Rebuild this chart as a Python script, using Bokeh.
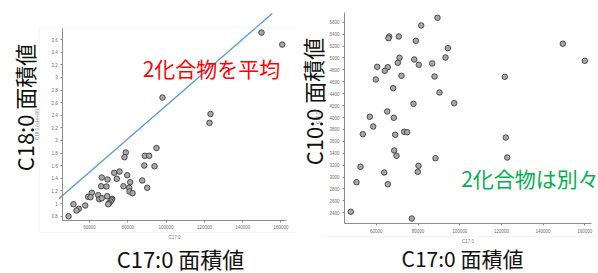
from bokeh.plotting import figure
from bokeh.models import (LinearAxis, SingleIntervalTicker, CustomJSTickFormatter,
                          BasicTickFormatter, Label, BoxAnnotation, Node, Range1d)
from bokeh.layouts import row
from bokeh.embed import file_html
from bokeh.resources import INLINE

# ---- data: left panel (C17:0 vs C18:0) ----
c17_a = [149818, 160628, 98121, 123186, 122664, 94987, 78956, 78277, 88878, 91175,
         88564, 93943, 75666, 72898, 79687, 66423, 69400, 74256, 87520, 66110,
         68877, 77755, 81254, 80731, 90131, 80888, 82455, 61201, 59321, 60522,
         64543, 65065, 66423, 69243, 71854, 71488, 70966, 70287, 69765, 57755,
         51645, 54412, 53211, 49034]
c18 = [3.71, 3.52, 2.68, 2.42, 2.28, 1.88, 1.81, 1.735, 1.757, 1.757,
       1.603, 1.592, 1.508, 1.488, 1.45, 1.413, 1.382, 1.393, 1.366, 1.275,
       1.271, 1.275, 1.339, 1.25, 1.25, 1.191, 1.165, 1.171, 1.107, 1.101,
       1.133, 1.069, 1.085, 1.117, 1.076, 1.06, 1.033, 1.006, 0.99, 0.97,
       0.99, 0.917, 0.89, 0.80]
trend_x = [43969, 155406]
trend_y = [1.076, 4.012]

# ---- data: right panel (C17:0 vs C10:0) ----
c17_b = [89352, 81534, 66187, 70791, 65851, 78944, 149445, 94291, 71127, 93188,
         78177, 159997, 70311, 86810, 80383, 60432, 65515, 64077, 72086, 87913,
         121629, 59760, 68105, 90311, 97361, 77841, 65228, 56883, 68393, 58513,
         73381, 74820, 53525, 69064, 122108, 68585, 69688, 88392, 122780, 52422,
         80239, 63789, 79903, 50504, 65515, 47770, 77026]
c10 = [5674, 5545, 5360, 5360, 5332, 5288, 5238, 5164, 5002, 5007,
       4974, 4952, 4919, 4907, 4885, 4851, 4845, 4784, 4700, 4688,
       4683, 4638, 4492, 4420, 4240, 4230, 4101, 4012, 3995, 3849,
       3760, 3753, 3720, 3710, 3664, 3446, 3357, 3317, 3328, 3172,
       3189, 3077, 3088, 2914, 2880, 2417, 2304]

title_left_y = "C18:0 面積値"
title_right_y = "C10:0 面積値"
title_x = "C17:0 面積値"
note_left = "2化合物を平均"
note_right = "2化合物は別々"

FONT = "Noto Sans CJK JP"
TICKFONT = "Liberation Sans"
H = 273


def base(width, xr, yr):
    p = figure(width=width, height=H, output_backend="svg", toolbar_location=None,
               x_axis_type=None, y_axis_type=None, x_range=Range1d(*xr), y_range=Range1d(*yr),
               min_border=0, min_border_left=0, min_border_right=0,
               min_border_top=0, min_border_bottom=0)
    p.outline_line_color = None
    p.background_fill_color = "white"
    p.border_fill_color = "white"
    return p


def style_axis(ax, label, standoff):
    ax.axis_line_color = "#8c8c8c"
    ax.axis_line_width = 1
    ax.major_tick_line_color = "#8c8c8c"
    ax.major_tick_out = 2
    ax.major_tick_in = 0
    ax.minor_tick_line_color = None
    ax.major_label_text_font = TICKFONT
    ax.major_label_text_font_size = "4.5px"
    ax.major_label_text_color = "#6e6e6e"
    ax.major_label_standoff = 1
    ax.axis_label = label
    ax.axis_label_text_font = TICKFONT
    ax.axis_label_text_font_size = "4.5px"
    ax.axis_label_text_font_style = "normal"
    ax.axis_label_text_color = "#7a7a7a"
    ax.axis_label_standoff = standoff


def big_label(p, text, x, y, size, color, angle=0.0):
    p.add_layout(Label(x=x, y=y, x_units="screen", y_units="screen", text=text,
                       text_font=FONT, text_font_size=size, text_color=color,
                       text_align="center", text_baseline="middle", angle=angle))


# ---------------- left panel ----------------
p1 = base(296, (13524, 168095), (-0.1081, 4.2184))
p1.add_layout(BoxAnnotation(left=Node(target="frame", symbol="left", offset=39),
                            right=Node(target="frame", symbol="left", offset=310),
                            top=Node(target="frame", symbol="top", offset=27),
                            bottom=Node(target="frame", symbol="top", offset=232),
                            fill_alpha=0, line_color="#e4e4e4", line_width=1))
ya = LinearAxis(fixed_location=46057, bounds=(0.732, 3.775),
                ticker=SingleIntervalTicker(interval=0.2),
                formatter=CustomJSTickFormatter(code="return String(parseFloat(tick.toFixed(2)))"))
style_axis(ya, "C18:0 (x1e+06)", 8)
p1.add_layout(ya, "left")
xa = LinearAxis(fixed_location=0.732, bounds=(46057, 162873),
                ticker=SingleIntervalTicker(interval=20000),
                formatter=BasicTickFormatter(use_scientific=False))
style_axis(xa, "C17:0", 2)
p1.add_layout(xa, "below")
p1.line(trend_x, trend_y, line_color="#5b9bd5", line_width=1.4)
p1.scatter(c17_a, c18, size=5.5, fill_color="#a8a8a8", line_color="#3c3c3c", line_width=0.9)
big_label(p1, title_left_y, 23.5, H - 107, "22px", "#111111", angle=1.5708)
big_label(p1, title_x, 180, H - 257.5, "22px", "#111111")
big_label(p1, note_left, 211, H - 67.5, "21px", "#ff0000")

# ---------------- right panel ----------------
p2 = base(302, (21728, 166567), (1380.8, 5964.5))
p2.add_layout(BoxAnnotation(left=Node(target="frame", symbol="left", offset=26),
                            right=Node(target="frame", symbol="left", offset=320),
                            top=Node(target="frame", symbol="top", offset=236),
                            bottom=Node(target="frame", symbol="top", offset=236),
                            fill_alpha=0, line_color="#ececec", line_width=1))
yb = LinearAxis(fixed_location=44749, bounds=(2212, 5763),
                ticker=SingleIntervalTicker(interval=200),
                formatter=BasicTickFormatter(use_scientific=False))
style_axis(yb, "C10:0", 5)
p2.add_layout(yb, "left")
xb = LinearAxis(fixed_location=2212, bounds=(44749, 163066),
                ticker=SingleIntervalTicker(interval=20000),
                formatter=BasicTickFormatter(use_scientific=False))
style_axis(xb, "C17:0", 3)
p2.add_layout(xb, "below")
p2.scatter(c17_b, c10, size=5.5, fill_color="#a8a8a8", line_color="#3c3c3c", line_width=0.9)
big_label(p2, title_right_y, 16, H - 101, "22px", "#111111", angle=1.5708)
big_label(p2, title_x, 166, H - 257, "21px", "#111111")
big_label(p2, note_right, 233.5, H - 177.5, "21px", "#00b050")

layout = row(p1, p2, spacing=0)
open("out.html", "w").write(file_html(layout, INLINE))
